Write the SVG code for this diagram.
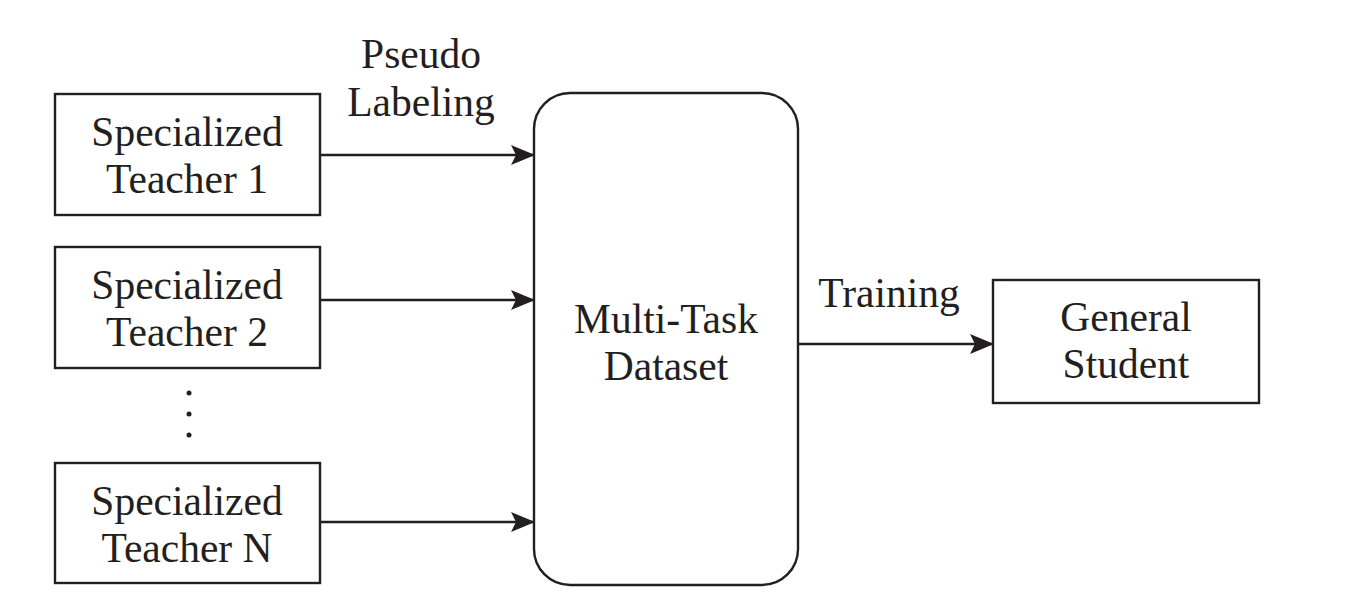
<svg xmlns="http://www.w3.org/2000/svg" width="1356" height="602" viewBox="0 0 1356 602">
<style>
.box{fill:#fff;stroke:#231f20;stroke-width:2.4}
.t{font-family:"Liberation Serif","Times New Roman",serif;font-size:41.5px;fill:#231f20;text-anchor:middle}
.c{stroke:#231f20;stroke-width:2.4;fill:none}
</style>
<defs>
<marker id="ah" markerWidth="26" markerHeight="22" refX="23" refY="10" orient="auto" markerUnits="userSpaceOnUse">
<path d="M0,0 L24,10 L0,20 L5,10 Z" fill="#231f20"/>
</marker>
</defs>
<rect width="1356" height="602" fill="#fff"/>
<g id="teacher1">
<rect class="box" x="55" y="94" width="265" height="121"/>
<text class="t" x="187" y="146">Specialized</text>
<text class="t" x="187" y="193">Teacher 1</text>
</g>
<g id="teacher2">
<rect class="box" x="55" y="247" width="265" height="121"/>
<text class="t" x="187" y="299">Specialized</text>
<text class="t" x="187" y="346">Teacher 2</text>
</g>
<g id="dots">
<circle cx="189" cy="393" r="2.5" fill="#231f20"/>
<circle cx="189" cy="414" r="2.5" fill="#231f20"/>
<circle cx="189" cy="435" r="2.5" fill="#231f20"/>
</g>
<g id="teacherN">
<rect class="box" x="55" y="463" width="265" height="120"/>
<text class="t" x="187" y="515">Specialized</text>
<text class="t" x="187" y="562">Teacher N</text>
</g>
<g id="dataset">
<rect class="box" x="534" y="93" width="264" height="492" rx="36" ry="36"/>
<text class="t" x="666" y="333">Multi-Task</text>
<text class="t" x="666" y="380">Dataset</text>
</g>
<g id="student">
<rect class="box" x="993" y="280" width="266" height="123"/>
<text class="t" x="1126" y="331">General</text>
<text class="t" x="1126" y="378">Student</text>
</g>
<g id="connectors">
<line class="c" x1="320" y1="155" x2="534" y2="155" marker-end="url(#ah)"/>
<line class="c" x1="320" y1="300" x2="534" y2="300" marker-end="url(#ah)"/>
<line class="c" x1="320" y1="522" x2="534" y2="522" marker-end="url(#ah)"/>
<line class="c" x1="798" y1="344" x2="993" y2="344" marker-end="url(#ah)"/>
<text class="t" x="421" y="68">Pseudo</text>
<text class="t" x="421" y="116">Labeling</text>
<text class="t" x="889" y="307">Training</text>
</g>
</svg>
